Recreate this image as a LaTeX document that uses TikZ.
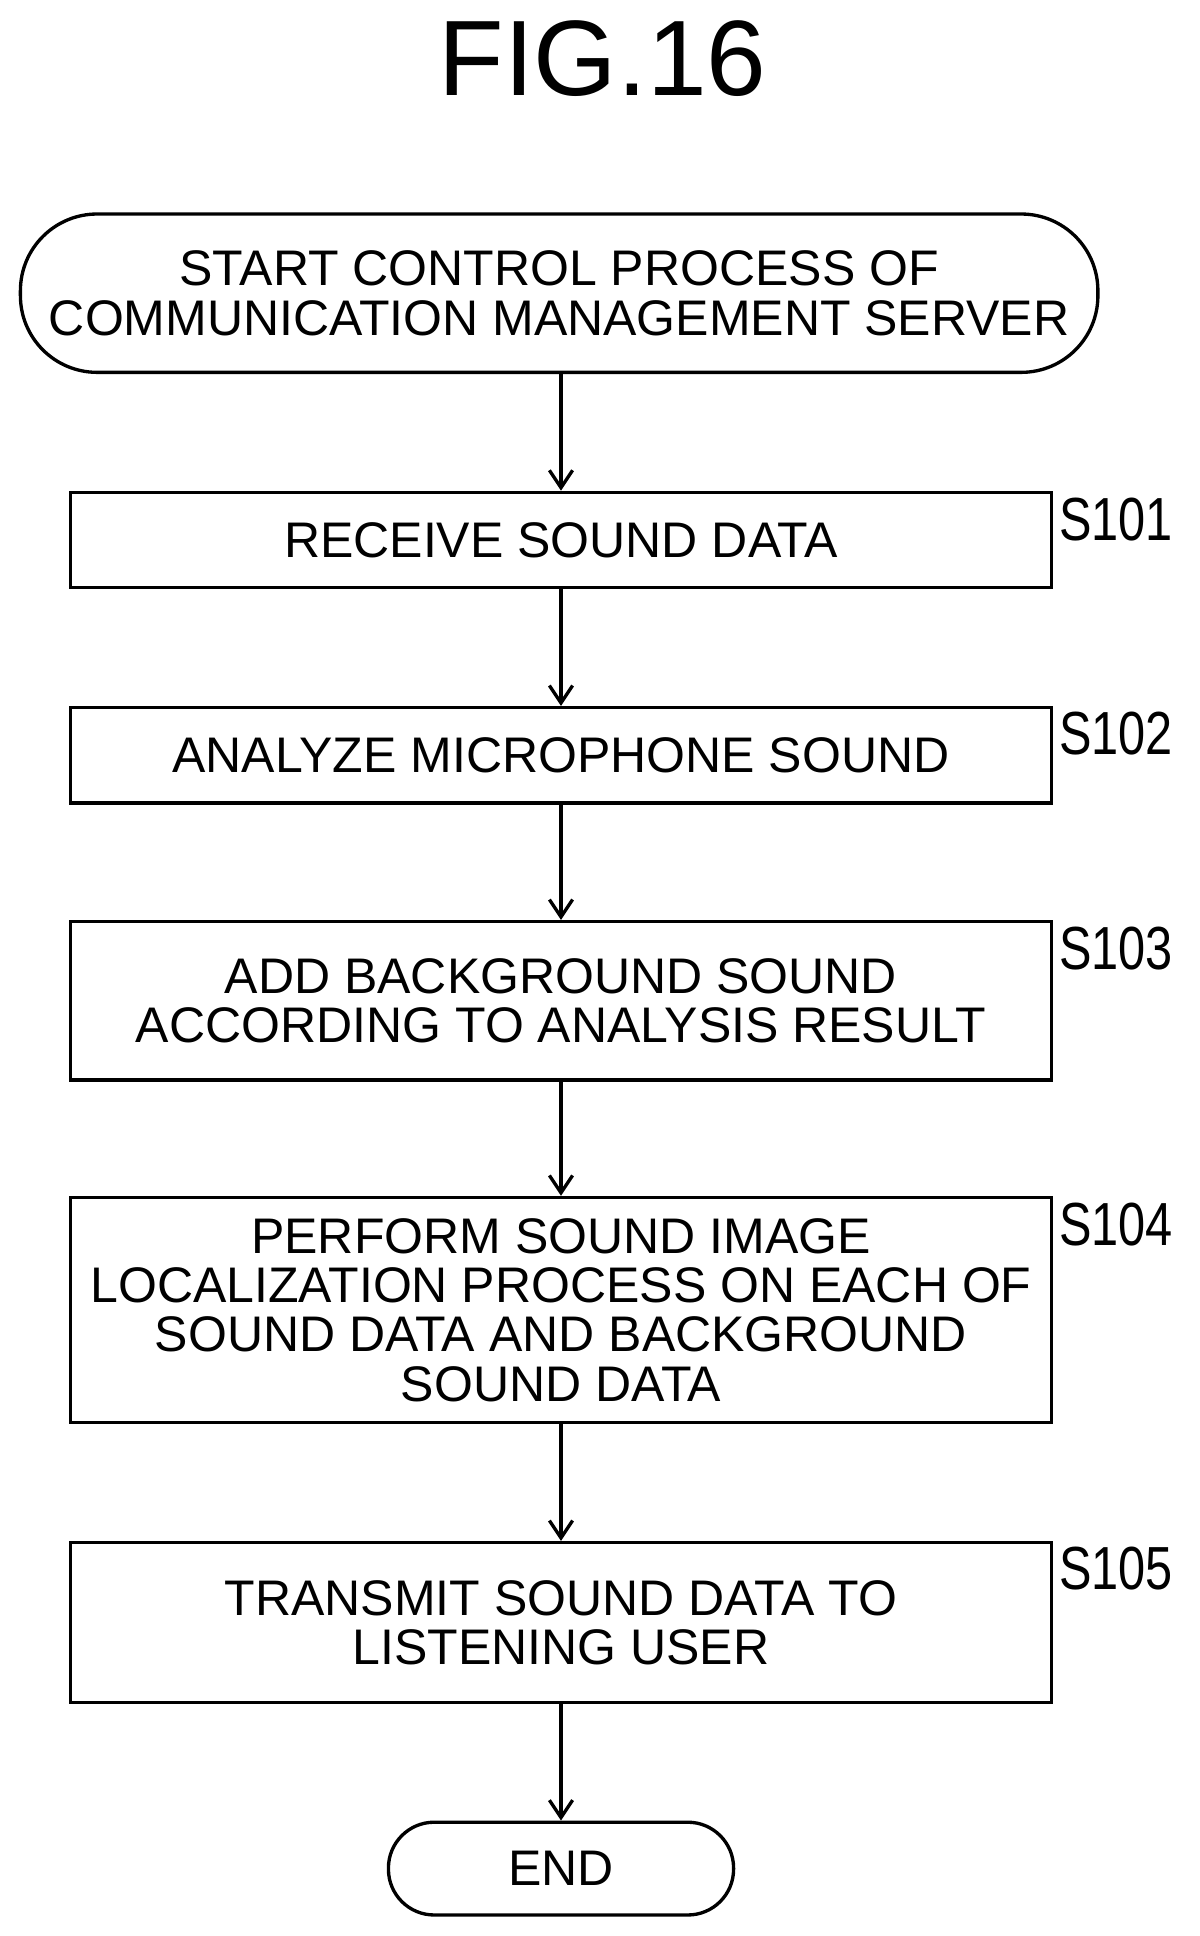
\documentclass[tikz,border=0pt]{standalone}
\usepackage{fontspec}
\setmainfont{Liberation Sans}
\usetikzlibrary{arrows.meta}
\begin{document}
\begin{tikzpicture}[x=0.03cm,y=-0.03cm,
  box/.style={draw,line width=2.3pt,minimum width=793*0.03cm,align=center,inner sep=0pt,font=\fontsize{34.5}{34}\selectfont},
  term/.style={draw,line width=2.3pt,rounded corners=62*0.03cm,align=center,inner sep=0pt,font=\fontsize{34.5}{34}\selectfont},
  lab/.style={anchor=west,font=\fontsize{42}{42}\selectfont,xscale=0.8,inner sep=0pt},
  arr/.style={line width=2.3pt,-{Straight Barb[length=12pt,width=16pt,line width=2.3pt]}}]
\useasboundingbox (0,0) rectangle (970,1565);
\node[font=\fontsize{74}{74}\selectfont] (title) at (487,47) {FIG.16};
\node[term,minimum width=871*0.03cm,minimum height=128*0.03cm] (start) at (452,237) {START CONTROL PROCESS OF\\COMMUNICATION MANAGEMENT SERVER};
\node[box,minimum height=77*0.03cm] (s1) at (453.5,436.5) {RECEIVE SOUND DATA};
\node[box,minimum height=77*0.03cm] (s2) at (453.5,610.5) {ANALYZE MICROPHONE SOUND};
\node[box,minimum height=128*0.03cm] (s3) at (453.5,809) {ADD BACKGROUND SOUND\\ACCORDING TO ANALYSIS RESULT};
\node[box,minimum height=182*0.03cm] (s4) at (453.5,1059) {PERFORM SOUND IMAGE\\LOCALIZATION PROCESS ON EACH OF\\SOUND DATA AND BACKGROUND\\SOUND DATA};
\node[box,minimum height=129*0.03cm] (s5) at (453.5,1311.5) {TRANSMIT SOUND DATA TO\\LISTENING USER};
\node[term,minimum width=279*0.03cm,minimum height=75*0.03cm,rounded corners=37*0.03cm] (end) at (453.5,1510.5) {END};
\node[lab] (l1) at (856,420) {S101};
\node[lab] (l2) at (856,593) {S102};
\node[lab] (l3) at (856,767) {S103};
\node[lab] (l4) at (856,990) {S104};
\node[lab] (l5) at (856,1268) {S105};
\draw[arr] (start.south -| s1.north) -- (s1.north);
\draw[arr] (s1) -- (s2);
\draw[arr] (s2) -- (s3);
\draw[arr] (s3) -- (s4);
\draw[arr] (s4) -- (s5);
\draw[arr] (s5) -- (end);
\end{tikzpicture}
\end{document}
